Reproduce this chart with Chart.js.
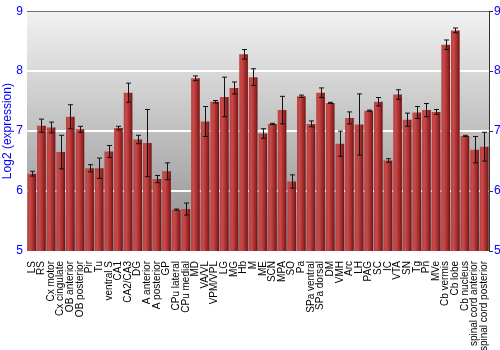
<!DOCTYPE html>
<html>
<head>
<meta charset="utf-8">
<script src="https://cdn.jsdelivr.net/npm/chart.js@4/dist/chart.umd.min.js"></script>
<style>
  html, body { margin: 0; padding: 0; background: #ffffff; }
  #wrap { width: 500px; height: 350px; position: relative; }
</style>
</head>
<body>
<div id="wrap"><canvas id="grafico"></canvas></div>
<script>
// --- datos ---
const regiones = ["LS", "RS", "Cx motor", "Cx cingulate", "OB anterior", "OB posterior", "Pir", "Tu",
  "ventral S", "CA1", "CA2/CA3", "DG", "A anterior", "A posterior", "GP", "CPu lateral", "CPu medial",
  "MD", "VA/VL", "VPM/VPL", "LG", "MG", "Hb", "M", "ME", "SCN", "MPA", "SO", "Pa", "SPa ventral",
  "SPa dorsal", "DM", "VMH", "Arc", "LH", "PAG", "SC", "IC", "VTA", "SN", "Tg", "Pn", "MVe",
  "Cb vermis", "Cb lobe", "Cb nucleus", "spinal cord anterior", "spinal cord posterior"];

const expresion = [6.29, 7.09, 7.06, 6.65, 7.24, 7.03, 6.38, 6.38,
  6.66, 7.05, 7.64, 6.86, 6.80, 6.20, 6.33, 5.69, 5.70,
  7.88, 7.16, 7.49, 7.57, 7.72, 8.28, 7.90, 6.96, 7.12, 7.35, 6.16, 7.58, 7.12,
  7.64, 7.47, 6.79, 7.22, 7.11, 7.34, 7.49, 6.51, 7.61, 7.19, 7.31, 7.35, 7.32,
  8.44, 8.68, 6.92, 6.69, 6.74];

const errores = [0.04, 0.11, 0.09, 0.28, 0.20, 0.05, 0.06, 0.17,
  0.10, 0.03, 0.16, 0.07, 0.56, 0.06, 0.14, 0.01, 0.10,
  0.04, 0.25, 0.02, 0.33, 0.10, 0.08, 0.14, 0.08, 0.01, 0.23, 0.11, 0.02, 0.05,
  0.08, 0.01, 0.21, 0.10, 0.51, 0.01, 0.07, 0.03, 0.08, 0.11, 0.10, 0.11, 0.04,
  0.08, 0.04, 0.01, 0.22, 0.24];

const ticksY = [5, 6, 7, 8, 9];

const AZUL = '#0000ff';

// fondo gris degradado del area de trazado
const fondoPlugin = {
  id: 'fondo',
  beforeDraw(chart) {
    const { ctx, chartArea: a } = chart;
    const g = ctx.createLinearGradient(0, a.top, 0, a.bottom);
    g.addColorStop(0, '#f2f2f2');
    g.addColorStop(1, '#8c8c8c');
    ctx.save();
    ctx.fillStyle = g;
    ctx.fillRect(a.left, a.top, a.right - a.left, a.bottom - a.top);
    ctx.restore();
  }
};

// barras de error
const erroresPlugin = {
  id: 'barrasError',
  afterDatasetsDraw(chart) {
    const { ctx } = chart;
    const y = chart.scales.y;
    const meta = chart.getDatasetMeta(0);
    ctx.save();
    ctx.strokeStyle = '#111111';
    ctx.lineWidth = 1;
    meta.data.forEach((bar, i) => {
      const x = Math.round(bar.x) + 0.5;
      const y1 = y.getPixelForValue(expresion[i] + errores[i]);
      const y2 = y.getPixelForValue(expresion[i] - errores[i]);
      ctx.beginPath();
      ctx.moveTo(x, y1); ctx.lineTo(x, y2);
      ctx.moveTo(x - 2.5, y1); ctx.lineTo(x + 2.5, y1);
      ctx.moveTo(x - 2.5, y2); ctx.lineTo(x + 2.5, y2);
      ctx.stroke();
    });
    ctx.restore();
  }
};

// degradado horizontal de cada barra
function colorBarra(context) {
  const chart = context.chart;
  const a = chart.chartArea;
  if (!a || context.dataIndex === undefined) return '#b03030';
  const xs = chart.scales.x;
  const cx = xs.getPixelForValue(context.dataIndex);
  const w = (a.right - a.left) / regiones.length * 0.9;
  const g = chart.ctx.createLinearGradient(cx - w / 2, 0, cx + w / 2, 0);
  g.addColorStop(0, '#b84040');
  g.addColorStop(0.3, '#c84a4a');
  g.addColorStop(0.75, '#9c2626');
  g.addColorStop(1, '#6e1212');
  return g;
}

const ctx = document.getElementById('grafico').getContext('2d');
new Chart(ctx, {
  type: 'bar',
  data: {
    labels: regiones,
    datasets: [{
      data: expresion,
      backgroundColor: colorBarra,
      borderWidth: 0,
      barPercentage: 0.9,
      categoryPercentage: 1.0
    }]
  },
  options: {
    responsive: true,
    maintainAspectRatio: false,
    animation: false,
    layout: { padding: { top: 10, right: 0, left: 0, bottom: 0 } },
    plugins: { legend: { display: false }, tooltip: { enabled: false } },
    scales: {
      x: {
        grid: { display: false },
        border: { display: false },
        ticks: {
          color: '#000000', autoSkip: false, minRotation: 90, maxRotation: 90,
          padding: 2, font: { family: 'Liberation Sans', size: 10 }
        },
        afterFit(scale) { scale.height = 99; }
      },
      y: {
        position: 'left',
        min: 5, max: 9,
        afterBuildTicks(scale) { scale.ticks = ticksY.map(v => ({ value: v })); },
        grid: {
          color: c => c.tick && c.tick.value === 9 ? '#707070' : (c.tick && c.tick.value === 5 ? 'rgba(0,0,0,0)' : '#ffffff'),
          lineWidth: c => c.tick && c.tick.value === 9 ? 1 : 2,
          drawTicks: false
        },
        border: { display: false },
        ticks: { color: AZUL, padding: 4, font: { family: 'Liberation Sans', size: 12 } },
        title: { display: true, text: 'Log2 (expression)', color: AZUL, padding: 0, font: { family: 'Liberation Sans', size: 12 } },
        afterFit(scale) { scale.width = 27; }
      },
      y2: {
        position: 'right',
        min: 5, max: 9,
        afterBuildTicks(scale) { scale.ticks = ticksY.map(v => ({ value: v })); },
        grid: { drawOnChartArea: false, color: '#333333', tickLength: 4 },
        border: { display: true, color: '#333333' },
        ticks: { color: AZUL, padding: 1, font: { family: 'Liberation Sans', size: 12 } },
        afterFit(scale) { scale.width = 11; }
      }
    }
  },
  plugins: [fondoPlugin, erroresPlugin]
});
</script>
</body>
</html>
